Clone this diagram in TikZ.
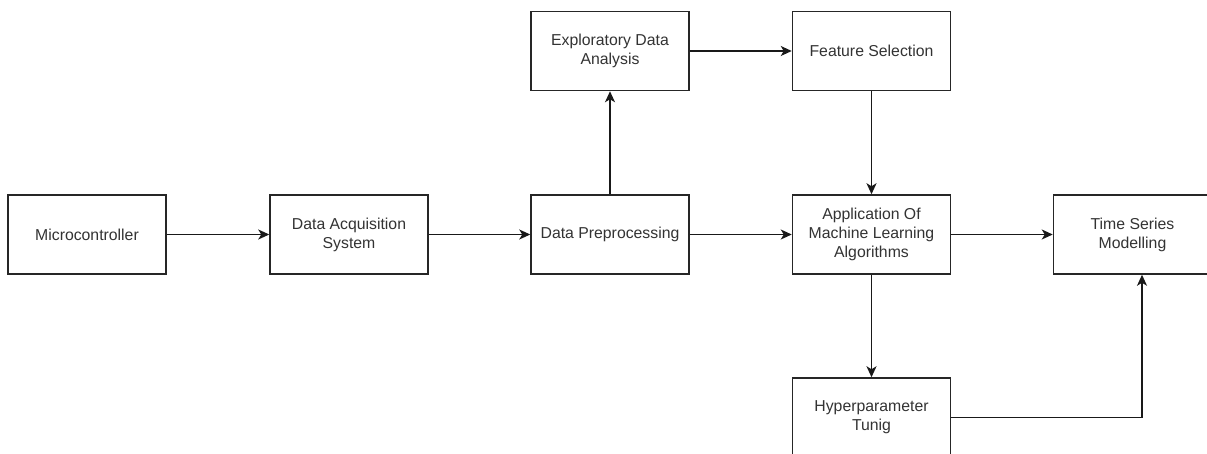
\documentclass[tikz,border=0pt]{standalone}
\usepackage{fontspec}
\setmainfont{Liberation Sans}
\usetikzlibrary{arrows.meta,positioning}
\tikzset{
  box/.style={draw=black!85, line width=1.5pt, fill=white, minimum width=158pt, minimum height=79pt, inner sep=0pt,
    align=center, text=black!80, font=\fontsize{15.8pt}{19pt}\selectfont},
  conn/.style={draw=black!90, line width=1.5pt, -{Stealth[length=11pt,width=10pt,inset=3pt]}}
}
\begin{document}
\begin{tikzpicture}[x=1pt,y=-1pt]
\clip (0,0) rectangle (1207,454);
\useasboundingbox (0,0) rectangle (1207,454);
\fill[white] (0,0) rectangle (1207,454);
\node[box] (mc) at (87,234.5) {Microcontroller};
\node[box] (daq) at (349,234.5) {Data Acquisition\\System};
\node[box] (dp) at (610,234.5) {Data Preprocessing};
\node[box] (eda) at (610,51) {Exploratory Data\\Analysis};
\node[box] (fs) at (871.5,51) {Feature Selection};
\node[box] (app) at (871.5,234.5) {Application Of\\Machine Learning\\Algorithms};
\node[box] (ts) at (1132.5,234.5) {Time Series\\Modelling};
\node[box] (hp) at (871.5,417.5) {Hyperparameter\\Tunig};
\coordinate (corner) at (1142,417.5);
\draw[conn] (mc) -- (daq);
\draw[conn] (daq) -- (dp);
\draw[conn] (dp) -- (app);
\draw[conn] (dp) -- (eda);
\draw[conn] (eda) -- (fs);
\draw[conn] (fs) -- (app);
\draw[conn] (app) -- (ts);
\draw[conn] (app) -- (hp);
\draw[conn] (hp.east) -- (corner) -- (corner |- ts.south);
\end{tikzpicture}
\end{document}
